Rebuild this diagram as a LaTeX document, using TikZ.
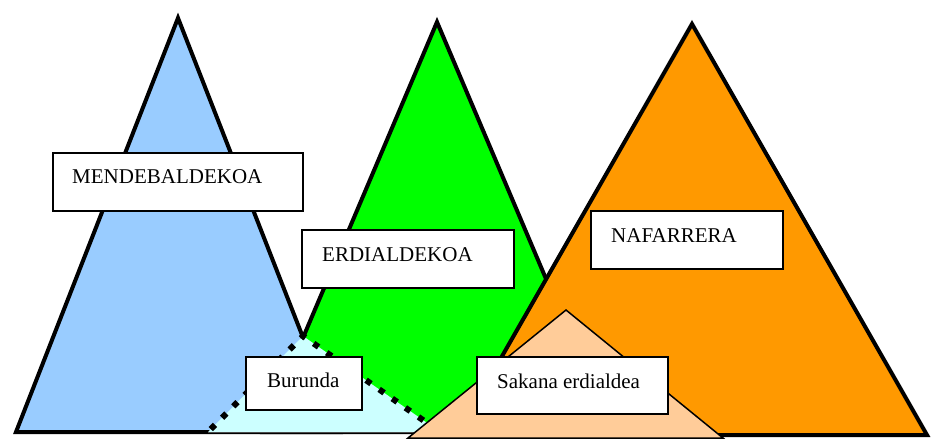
\documentclass[tikz,border=0pt]{standalone}
\usepackage{fontspec}
\setmainfont{Liberation Serif}
\definecolor{westblue}{HTML}{99CCFF}
\definecolor{centralgreen}{HTML}{00FF00}
\definecolor{navorange}{HTML}{FF9900}
\definecolor{sakanapeach}{HTML}{FFCC99}
\definecolor{burundacyan}{HTML}{CCFFFF}
\tikzset{
  peak/.style={draw=black, line width=4pt, line join=miter},
  subpeak/.style={draw=black, line width=1.5pt, line join=miter},
  dotrim/.style={draw=black, line width=6pt, dash pattern=on 6pt off 10pt, dash phase=3pt, line cap=butt},
  namebox/.style={draw=black, fill=white, line width=1.6pt, rectangle, inner sep=0pt, outer sep=0pt},
  nametext/.style={inner sep=0pt, anchor=base west, font=\fontsize{21}{25}\selectfont}
}
\begin{document}
\begin{tikzpicture}[x=1pt, y=-1pt]
\useasboundingbox (0,0) rectangle (931,440);

% the three dialect peaks
\coordinate (bL) at (16,432);  \coordinate (bR) at (340,432);  \coordinate (bT) at (178,18);
\coordinate (gL) at (263,432); \coordinate (gR) at (611,432);  \coordinate (gT) at (437,22);
\coordinate (oL) at (457,435); \coordinate (oR) at (927,435);  \coordinate (oT) at (692,24);
\filldraw[peak, fill=westblue] (bL) -- (bT) -- (bR) -- cycle;
\filldraw[peak, fill=centralgreen] (gL) -- (gT) -- (gR) -- cycle;
\filldraw[peak, fill=navorange] (oL) -- (oT) -- (oR) -- cycle;

% Burunda: transition zone with a dotted rim
\coordinate (cL) at (208,432); \coordinate (cT) at (303,336); \coordinate (cR) at (440,432);
\fill[burundacyan] (cL) -- (cT) -- (cR) -- cycle;
\draw[dotrim] (cT) -- (cL);
\draw[dotrim] (cT) -- (cR);
\draw[black!70, line width=1pt] (cL) -- (cR);

% Sakana erdialdea
\coordinate (sL) at (408,438); \coordinate (sT) at (566,310); \coordinate (sR) at (723,438);
\filldraw[subpeak, fill=sakanapeach] (sL) -- (sT) -- (sR) -- cycle;

% name boxes
\node[namebox, minimum width=250pt, minimum height=58pt] (mend) at (178,182) {};
\node[namebox, minimum width=212pt, minimum height=58pt] (erd) at (408,259) {};
\node[namebox, minimum width=192pt, minimum height=58pt] (naf) at (687,240) {};
\node[namebox, minimum width=116pt, minimum height=53pt] (bur) at (304,383.5) {};
\node[namebox, minimum width=191pt, minimum height=57pt] (sak) at (572.5,385.5) {};

\node[nametext] (mendtxt) at (72,183) {MENDEBALDEKOA};
\node[nametext] (erdtxt) at (322,261) {ERDIALDEKOA};
\node[nametext] (naftxt) at (611,242) {NAFARRERA};
\node[nametext] (burtxt) at (267,387) {Burunda};
\node[nametext] (saktxt) at (497,388) {Sakana erdialdea};
\end{tikzpicture}
\end{document}
